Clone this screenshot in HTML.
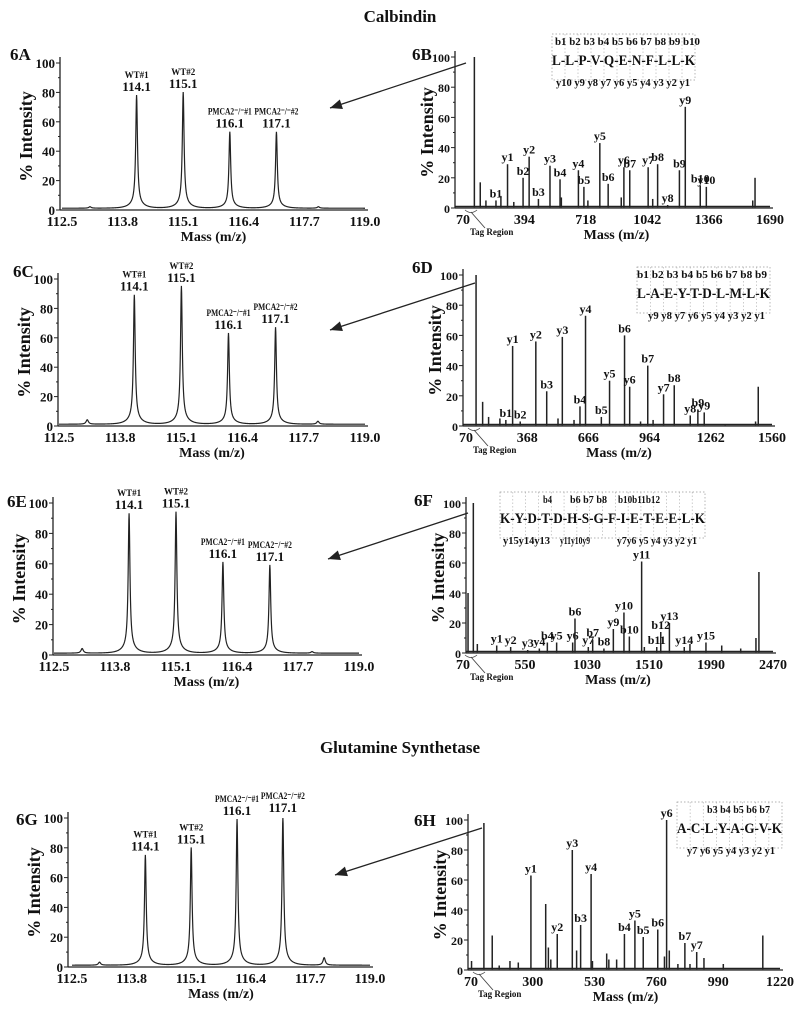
<!DOCTYPE html>
<html><head><meta charset="utf-8"><style>
html,body{margin:0;padding:0;background:#fff}
svg{display:block}
text{font-family:"Liberation Serif",serif;font-weight:bold;fill:#111}
</style></head><body>
<svg id="fig" width="800" height="1014" viewBox="0 0 800 1014">
<text x="400" y="22" text-anchor="middle" font-size="17">Calbindin</text>
<text x="400" y="753" text-anchor="middle" font-size="17">Glutamine Synthetase</text>
</svg>
<script>
// ---- reporter-ion panels (left) ----
const reporterTicks = ["112.5","113.8","115.1","116.4","117.7","119.0"];
const reporterMasses = [114.1, 115.1, 116.1, 117.1];
const reporterNames = ["WT#1","WT#2","PMCA2\u207B/\u207B#1","PMCA2\u207B/\u207B#2"];
const aHeights = [77, 79, 52, 52];
const cHeights = [88, 94, 62, 66];
const eHeights = [92, 93, 60, 58];
const gHeights = [74, 79, 98, 100];
const minorMasses = [113.1, 118.0];
const aMinor = [1, 1];
const cMinor = [3, 2];
const eMinor = [3, 1];
const gMinor = [2, 5];

// ---- MS/MS panels (right) ----
const bTicks = [70, 394, 718, 1042, 1366, 1690];
const bMz  = [130,161,191,244,270,305,338,387,419,468,529,582,589,679,708,729,792,836,905,919,950,1047,1071,1097,1150,1212,1243,1322,1354,1599,1611];
const bInt = [100,17,5,5,8,29,4,20,34,6,28,19,7,25,14,5,43,16,7,27,25,27,6,29,2,25,67,15,14,5,20];
const bLab = ["","","","b1","","y1","","b2","y2","b3","y3","b4","","y4","b5","","y5","b6","","y6","b7","y7","","b8","y8","b9","y9","b10","y10","",""];

const dTicks = [70, 368, 666, 964, 1262, 1560];
const dMz  = [119,151,180,235,264,297,334,410,463,518,539,596,625,652,729,769,842,867,920,955,981,1032,1084,1162,1199,1230,1332,1480,1493];
const dInt = [100,16,6,5,4,53,3,56,23,5,59,4,13,73,6,30,60,26,3,40,4,21,27,7,11,9,1,3,26];
const dLab = ["","","","","b1","y1","b2","y2","b3","","y3","","b4","y4","b5","y5","b6","y6","","b7","","y7","b8","y8","b9","y9","","",""];

const fTicks = [70, 550, 1030, 1510, 1990, 2470];
const fMz  = [109,150,181,331,439,571,661,723,795,919,937,1040,1074,1161,1234,1316,1358,1453,1474,1570,1601,1668,1783,1827,1951,2073,2220,2338,2361];
const fInt = [40,100,6,5,4,2,3,7,7,7,23,4,9,3,16,27,11,61,4,4,14,20,4,6,7,5,3,10,54];
const fLab = ["","","","y1","y2","y3","y4","b4","y5","y6","b6","y7","b7","b8","y9","y10","b10","y11","","b11","b12","y13","y14","","y15","","","",""];

const hTicks = [70, 300, 530, 760, 990, 1220];
const hMz  = [72,118,149,175,215,246,293,348,358,367,391,447,463,478,517,522,575,583,612,641,680,711,765,790,798,808,840,866,885,910,937,1009,1156];
const hInt = [6,98,23,3,6,5,63,44,15,7,24,80,13,30,64,6,11,7,7,24,33,22,27,9,100,13,4,18,4,12,8,4,23];
const hLab = ["","","","","","","y1","","","","y2","y3","","b3","y4","","","","","b4","y5","b5","b6","","y6","","","b7","","y7","","",""];

const svg = document.getElementById('fig');
const NS = 'http://www.w3.org/2000/svg';
function mk(tag, attrs, txt){
  const e = document.createElementNS(NS, tag);
  for (const k in attrs) e.setAttribute(k, attrs[k]);
  if (txt !== undefined) e.textContent = txt;
  svg.appendChild(e);
  return e;
}

function yAxis(p, id){
  const y = v => p.y0 - (p.y0 - p.y100) * v / 100;
  const ax = mk('line', {x1:p.ax, y1:p.y100-6, x2:p.ax, y2:p.y0, stroke:'#222', 'stroke-width':1.3});
  
  
  for (let v = 0; v <= 100; v += 10){
    mk('line', {x1:p.ax-(v%20===0?4:2), y1:y(v), x2:p.ax, y2:y(v), stroke:'#222', 'stroke-width':1});
    if (v % 20 === 0){
      const t = mk('text', {x:p.ax-5, y:y(v)+5, 'text-anchor':'end', 'font-size':p.tf}, String(v));
      
      
    }
  }
  const cx = p.ax - p.tOff, cy = (p.y0 + p.y100) / 2;
  const yt = mk('text', {x:cx, y:cy, 'text-anchor':'middle', 'font-size':18, transform:'rotate(-90 '+cx+' '+cy+')'}, '% Intensity');
  
  
  const pl = mk('text', {x:p.lx, y:p.ly, 'font-size':17}, p.label);
  
  
  return y;
}

function xTitle(p, id, xa, xb){
  const t = mk('text', {x:(xa+xb)/2, y:p.y0+31, 'text-anchor':'middle', 'font-size':14}, 'Mass (m/z)');
  
  
}

function reporterPanel(p, id, heights, minor){
  p.tOff = 28; p.tf = 13;
  const y = yAxis(p, id);
  const lo = parseFloat(reporterTicks[0]), hi = parseFloat(reporterTicks[reporterTicks.length-1]);
  const x = m => p.x0 + (m - lo) / (hi - lo) * (p.x1 - p.x0);
  const xa = mk('line', {x1:p.ax, y1:p.y0, x2:p.x1+3, y2:p.y0, stroke:'#222', 'stroke-width':1.3});
  
  
  reporterTicks.forEach(t => {
    const tl = mk('text', {x:x(parseFloat(t)), y:p.y0+16, 'text-anchor':'middle', 'font-size':14}, t);
    
    
  });
  xTitle(p, id, p.x0, p.x1);
  const f = m => {
    let s = 1.2;
    reporterMasses.forEach((c, i) => { const d = (m - c) / 0.022; s += heights[i] / (1 + d*d) * 0.92 + heights[i]*0.08*Math.exp(-Math.abs(m-c)/0.12); });
    minorMasses.forEach((c, i) => { const d = (m - c) / 0.03; s += minor[i] / (1 + d*d); });
    return s;
  };
  let d = '';
  for (let m = lo; m <= hi + 1e-9; m += 0.005){ d += (d ? 'L' : 'M') + x(m).toFixed(2) + ' ' + y(Math.min(f(m),100)).toFixed(2); }
  const path = mk('path', {d:d, fill:'none', stroke:'#222', 'stroke-width':1.2});
  
  
  reporterMasses.forEach((c, i) => {
    const top = y(heights[i]);
    const attrs = {x:x(c), y:top-19, 'text-anchor':'middle', 'font-size':9};
    if (i >= 2){ attrs.textLength = 44; attrs.lengthAdjust = 'spacingAndGlyphs'; }
    const n = mk('text', attrs, reporterNames[i]);
    
    
    const v = mk('text', {x:x(c), y:top-6, 'text-anchor':'middle', 'font-size':13}, c.toFixed(1));
    
    
  });
}

function msmsPanel(p, id, ticks, mz, inten, labs){
  p.tOff = 22; p.tf = 12;
  const y = yAxis(p, id);
  const lo = ticks[0], hi = ticks[ticks.length-1];
  const x = m => p.x0 + (m - lo) / (hi - lo) * (p.x1 - p.x0);
  const xa = mk('line', {x1:p.ax, y1:p.y0, x2:p.x1+3, y2:p.y0, stroke:'#222', 'stroke-width':1.3});
  
  
  ticks.forEach(t => {
    const tl = mk('text', {x:x(t), y:p.y0+16, 'text-anchor':'middle', 'font-size':14}, String(t));
    
    
  });
  xTitle(p, id, p.x0, p.x1);
  mk('line', {x1:p.ax, y1:y(1), x2:p.x1, y2:y(1), stroke:'#222', 'stroke-width':1.6});
  mz.forEach((m, i) => {
    const l = mk('line', {x1:x(m), y1:y(0.5), x2:x(m), y2:y(inten[i]), stroke:'#222', 'stroke-width':1.5});
    
    
    if (labs[i]){
      const t = mk('text', {x:x(m), y:y(inten[i])-3, 'text-anchor':'middle', 'font-size':12}, labs[i]);
      
      
    }
  });
  mk('path', {d:'M'+(x(lo)+2)+' '+(p.y0+2)+' q6 5 12 0', fill:'none', stroke:'#444', 'stroke-width':0.8});
  mk('line', {x1:x(lo)+8, y1:p.y0+4, x2:x(lo)+22, y2:p.y0+20, stroke:'#444', 'stroke-width':0.9});
  const tg = mk('text', {x:x(lo)+7, y:p.y0+27, 'font-size':9}, 'Tag Region');
  
  
}

function sequence(id, bParts, seq, sx1, sx2, sy, yParts){
  const box = mk('rect', {x:sx1, y:sy-26, width:sx2-sx1, height:46, fill:'none', stroke:'#999', 'stroke-width':0.7, 'stroke-dasharray':'1.5 2'});
  
  
  const n = seq.split('-').length;
  for (let i = 1; i < n; i++){
    const gx = sx1 + (sx2 - sx1) * i / n;
    mk('line', {x1:gx, y1:sy-26, x2:gx, y2:sy+20, stroke:'#aaa', 'stroke-width':0.6, 'stroke-dasharray':'1.5 2'});
  }
  const s = mk('text', {x:sx1, y:sy+5, 'font-size':15, textLength:sx2-sx1, lengthAdjust:'spacingAndGlyphs'}, seq);
  
  
  bParts.forEach(b => {
    const t = mk('text', {x:b[0], y:sy-15, 'font-size':10, textLength:b[1]-b[0], lengthAdjust:'spacingAndGlyphs'}, b[2]);
    
    
  });
  yParts.forEach(b => {
    const t = mk('text', {x:b[0], y:sy+26, 'font-size':10, textLength:b[1]-b[0], lengthAdjust:'spacingAndGlyphs'}, b[2]);
    
    
  });
}

function arrow(id, x1, y1, x2, y2){
  const a = mk('line', {x1:x1, y1:y1, x2:x2, y2:y2, stroke:'#222', 'stroke-width':1.3});
  
  
  const ang = Math.atan2(y2-y1, x2-x1), L = 12, W = 5;
  const bx = x2 - L*Math.cos(ang), by = y2 - L*Math.sin(ang);
  const px = -Math.sin(ang)*W, py = Math.cos(ang)*W;
  mk('polygon', {points:x2+','+y2+' '+(bx+px)+','+(by+py)+' '+(bx-px)+','+(by-py), fill:'#222'});
}

reporterPanel({x0:62,x1:365,y0:210,y100:63,ax:60,label:'6A',lx:10,ly:60}, 'panel-6a', aHeights, aMinor);
reporterPanel({x0:59,x1:365,y0:426,y100:279,ax:58,label:'6C',lx:13,ly:277}, 'panel-6c', cHeights, cMinor);
reporterPanel({x0:54,x1:359,y0:655,y100:503,ax:53,label:'6E',lx:7,ly:507}, 'panel-6e', eHeights, eMinor);
reporterPanel({x0:72,x1:370,y0:967,y100:818,ax:68,label:'6G',lx:16,ly:825}, 'panel-6g', gHeights, gMinor);

msmsPanel({x0:463,x1:770,y0:208,y100:57,ax:455,label:'6B',lx:412,ly:60}, 'panel-6b', bTicks, bMz, bInt, bLab);
msmsPanel({x0:466,x1:772,y0:426,y100:275,ax:463,label:'6D',lx:412,ly:273}, 'panel-6d', dTicks, dMz, dInt, dLab);
msmsPanel({x0:463,x1:773,y0:653,y100:503,ax:466,label:'6F',lx:414,ly:506}, 'panel-6f', fTicks, fMz, fInt, fLab);
msmsPanel({x0:471,x1:780,y0:970,y100:820,ax:468,label:'6H',lx:414,ly:826}, 'panel-6h', hTicks, hMz, hInt, hLab);

sequence('panel-6b', [[555,700,'b1 b2 b3 b4 b5 b6 b7 b8 b9 b10']], 'L-L-P-V-Q-E-N-F-L-L-K', 552, 695, 60, [[556,690,'y10 y9 y8 y7 y6 y5 y4 y3 y2 y1']]);
sequence('panel-6d', [[637,767,'b1 b2 b3 b4 b5 b6 b7 b8 b9']], 'L-A-E-Y-T-D-L-M-L-K', 637, 770, 293, [[648,765,'y9 y8 y7 y6 y5 y4 y3 y2 y1']]);
sequence('panel-6f', [[543,552,'b4'],[570,607,'b6 b7 b8'],[618,660,'b10b11b12']], 'K-Y-D-T-D-H-S-G-F-I-E-T-E-E-L-K', 500, 705, 518, [[503,550,'y15y14y13'],[560,590,'y11y10y9'],[617,697,'y7y6 y5 y4 y3 y2 y1']]);
sequence('panel-6h', [[707,770,'b3 b4 b5 b6 b7']], 'A-C-L-Y-A-G-V-K', 677, 782, 828, [[687,775,'y7 y6 y5 y4 y3 y2 y1']]);

arrow('arrow-6b-to-6a', 466, 63, 330, 108);
arrow('arrow-6d-to-6c', 475, 283, 330, 330);
arrow('arrow-6f-to-6e', 468, 513, 328, 559);
arrow('arrow-6h-to-6g', 482, 828, 335, 875);
</script>
</body></html>
